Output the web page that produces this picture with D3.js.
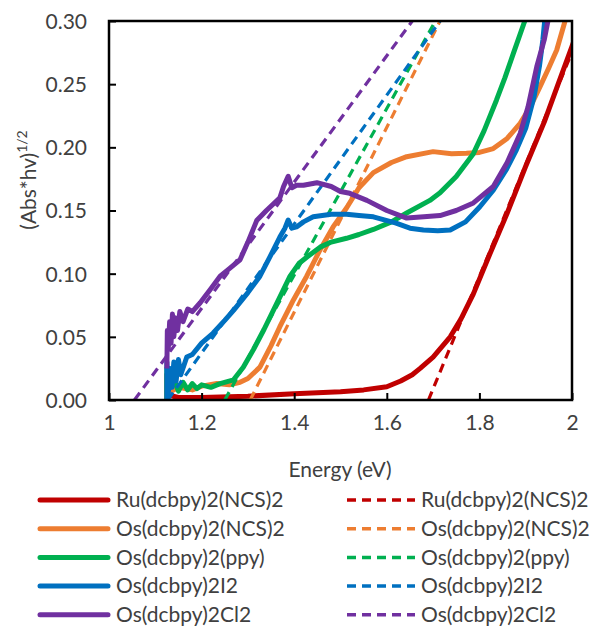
<!DOCTYPE html>
<html><head><meta charset="utf-8">
<script src="https://cdn.jsdelivr.net/npm/d3@7"></script>
<style>body{margin:0;background:#fff}svg{display:block}</style>
</head><body><svg id="c" width="603" height="626"></svg>
<script>
// ---- data ----
const xTicks = [1, 1.2, 1.4, 1.6, 1.8, 2];
const yTicks = [0, 0.05, 0.10, 0.15, 0.20, 0.25, 0.30];
const seriesNames = ["Ru(dcbpy)2(NCS)2","Os(dcbpy)2(NCS)2","Os(dcbpy)2(ppy)","Os(dcbpy)2I2","Os(dcbpy)2Cl2"];
const seriesColors = ["#C00000","#ED7D31","#00B050","#0070C0","#7030A0"];

const ruData = [[1.125,0],[1.125,0.02],[1.127,0.004],[1.15,0.002],[1.2,0.002],[1.3,0.003],[1.4,0.005],[1.5,0.0066],[1.55,0.008],[1.6,0.0105],[1.63,0.015],[1.655,0.02],[1.672,0.025],[1.7,0.034],[1.737,0.05],[1.76,0.064],[1.787,0.084],[1.823,0.116],[1.859,0.147],[1.9,0.185],[1.94,0.22],[1.97,0.25],[2.0,0.28],[2.02,0.30]];
const osNcsData = [[1.125,0],[1.125,0.02],[1.13,0.006],[1.15,0.01],[1.18,0.008],[1.2,0.011],[1.233,0.013],[1.26,0.012],[1.283,0.014],[1.3,0.017],[1.326,0.026],[1.35,0.043],[1.369,0.058],[1.38,0.066],[1.398,0.079],[1.427,0.098],[1.456,0.119],[1.484,0.137],[1.513,0.152],[1.54,0.168],[1.571,0.18],[1.61,0.188],[1.643,0.1926],[1.7,0.1966],[1.74,0.195],[1.772,0.1953],[1.8,0.196],[1.83,0.199],[1.86,0.207],[1.888,0.219],[1.91,0.232],[1.931,0.248],[1.95,0.263],[1.967,0.277],[1.985,0.30]];
const ppyData = [[1.125,0],[1.125,0.025],[1.13,0.01],[1.14,0.016],[1.15,0.007],[1.16,0.014],[1.17,0.008],[1.18,0.013],[1.19,0.009],[1.2,0.012],[1.22,0.01],[1.24,0.013],[1.269,0.016],[1.29,0.026],[1.312,0.04],[1.335,0.056],[1.355,0.071],[1.375,0.086],[1.391,0.098],[1.41,0.108],[1.427,0.113],[1.456,0.121],[1.48,0.125],[1.513,0.128],[1.54,0.131],[1.571,0.135],[1.61,0.141],[1.643,0.148],[1.693,0.158],[1.715,0.164],[1.75,0.177],[1.787,0.195],[1.81,0.213],[1.837,0.2375],[1.855,0.255],[1.873,0.274],[1.898,0.30]];
const i2Data = [[1.125,0],[1.125,0.03],[1.128,0.005],[1.132,0.025],[1.136,0.01],[1.14,0.03],[1.145,0.015],[1.15,0.032],[1.155,0.02],[1.168,0.034],[1.18,0.036],[1.2,0.045],[1.225,0.053],[1.25,0.063],[1.269,0.071],[1.3,0.085],[1.326,0.098],[1.35,0.115],[1.369,0.129],[1.38,0.136],[1.387,0.1425],[1.395,0.136],[1.405,0.137],[1.42,0.141],[1.441,0.145],[1.48,0.147],[1.513,0.147],[1.54,0.146],[1.571,0.145],[1.62,0.14],[1.65,0.136],[1.679,0.1346],[1.71,0.134],[1.737,0.1346],[1.77,0.141],[1.801,0.153],[1.83,0.166],[1.859,0.183],[1.88,0.198],[1.9,0.215],[1.918,0.24],[1.93,0.265],[1.937,0.285],[1.941,0.30]];
const cl2Data = [[1.125,0.025],[1.126,0.055],[1.128,0.04],[1.131,0.062],[1.134,0.045],[1.137,0.068],[1.14,0.05],[1.144,0.065],[1.148,0.055],[1.153,0.07],[1.16,0.062],[1.17,0.072],[1.18,0.07],[1.197,0.077],[1.22,0.088],[1.24,0.098],[1.26,0.104],[1.283,0.111],[1.3,0.125],[1.319,0.142],[1.34,0.15],[1.369,0.16],[1.377,0.169],[1.387,0.177],[1.395,0.168],[1.405,0.17],[1.42,0.17],[1.449,0.172],[1.48,0.169],[1.5,0.165],[1.52,0.1636],[1.557,0.158],[1.6,0.15],[1.643,0.144],[1.68,0.145],[1.715,0.146],[1.75,0.15],[1.787,0.156],[1.83,0.169],[1.86,0.188],[1.888,0.211],[1.905,0.232],[1.924,0.264],[1.94,0.285],[1.948,0.30]];

const ruFit = [[1.69,0],[2.02,0.293]];
const osNcsFit = [[1.305,0],[1.715,0.30]];
const ppyFit = [[1.25,0],[1.705,0.30]];
const i2Fit = [[1.127,0],[1.715,0.30]];
const cl2Fit = [[1.055,0],[1.655,0.30]];

const solidSeries = [ruData, osNcsData, ppyData, i2Data, cl2Data];
const fitSeries = [ruFit, osNcsFit, ppyFit, i2Fit, cl2Fit];

// ---- chart ----
const L = 109, R = 572, T = 21, B = 400;
const svg = d3.select("#c");
const x = d3.scaleLinear().domain([1, 2]).range([L, R]);
const y = d3.scaleLinear().domain([0, 0.30]).range([B, T]);
const font = "Lato, 'Open Sans', sans-serif";
const txt = "#404040";

svg.append("defs").append("clipPath").attr("id","clip")
  .append("rect").attr("x", L).attr("y", T).attr("width", R - L).attr("height", B - T);

const line = d3.line().x(d => x(d[0])).y(d => y(d[1]));
const g = svg.append("g").attr("clip-path", "url(#clip)");
for (let i = 0; i < 5; i++) {
  g.append("path").attr("d", line(solidSeries[i])).attr("fill","none")
    .attr("stroke", seriesColors[i]).attr("stroke-width", 5).attr("stroke-linejoin","round");
  g.append("path").attr("d", line(fitSeries[i])).attr("fill","none")
    .attr("stroke", seriesColors[i]).attr("stroke-width", 3.2).attr("stroke-dasharray","9,6");
}

// frame
svg.append("rect").attr("x", L).attr("y", T).attr("width", R - L).attr("height", B - T)
  .attr("fill","none").attr("stroke","#000").attr("stroke-width", 2.5);

// axes
const xAxis = d3.axisBottom(x).tickValues(xTicks).tickSizeInner(-7).tickSizeOuter(0).tickPadding(17)
  .tickFormat(d => d3.format("")(d));
const xg = svg.append("g").attr("transform", `translate(0,${B})`).call(xAxis);
const yAxis = d3.axisLeft(y).tickValues(yTicks).tickSizeInner(-7).tickSizeOuter(0).tickPadding(22)
  .tickFormat(d3.format(".2f"));
const yg = svg.append("g").attr("transform", `translate(${L},0)`).call(yAxis);
[xg, yg].forEach(a => {
  a.select(".domain").remove();
  a.selectAll(".tick line").attr("stroke","#000").attr("stroke-width", 2);
  a.selectAll(".tick text").attr("fill", txt).style("font-family", font).style("font-size","21px");
});
xg.selectAll(".tick text").attr("dy","0.62em");
yg.selectAll(".tick text").attr("dy","0.35em");

svg.append("text").attr("x", 340).attr("y", 477).attr("text-anchor","middle")
  .attr("fill", txt).style("font-family", font).style("font-size","21px").text("Energy (eV)");

const yt = svg.append("text").attr("transform","translate(36,180) rotate(-90)").attr("text-anchor","middle")
  .attr("fill", txt).style("font-family", font).style("font-size","21px");
yt.append("tspan").text("(Abs*hv)");
yt.append("tspan").attr("dy", -9).style("font-size","14px").text("1/2");

// legend
const rowY = [500, 528.7, 557.4, 586.1, 614.8];
const leg = svg.append("g");
for (let i = 0; i < 5; i++) {
  leg.append("line").attr("x1", 40).attr("x2", 108).attr("y1", rowY[i]).attr("y2", rowY[i])
    .attr("stroke", seriesColors[i]).attr("stroke-width", 5).attr("stroke-linecap","round");
  leg.append("text").attr("x", 116).attr("y", rowY[i]).attr("dy","0.35em").attr("fill", txt)
    .style("font-family", font).style("font-size","21px").text(seriesNames[i]);
  leg.append("line").attr("x1", 347).attr("x2", 415).attr("y1", rowY[i]).attr("y2", rowY[i])
    .attr("stroke", seriesColors[i]).attr("stroke-width", 3.5).attr("stroke-dasharray","9,6");
  leg.append("text").attr("x", 421).attr("y", rowY[i]).attr("dy","0.35em").attr("fill", txt)
    .style("font-family", font).style("font-size","21px").text(seriesNames[i]);
}
</script></body></html>
